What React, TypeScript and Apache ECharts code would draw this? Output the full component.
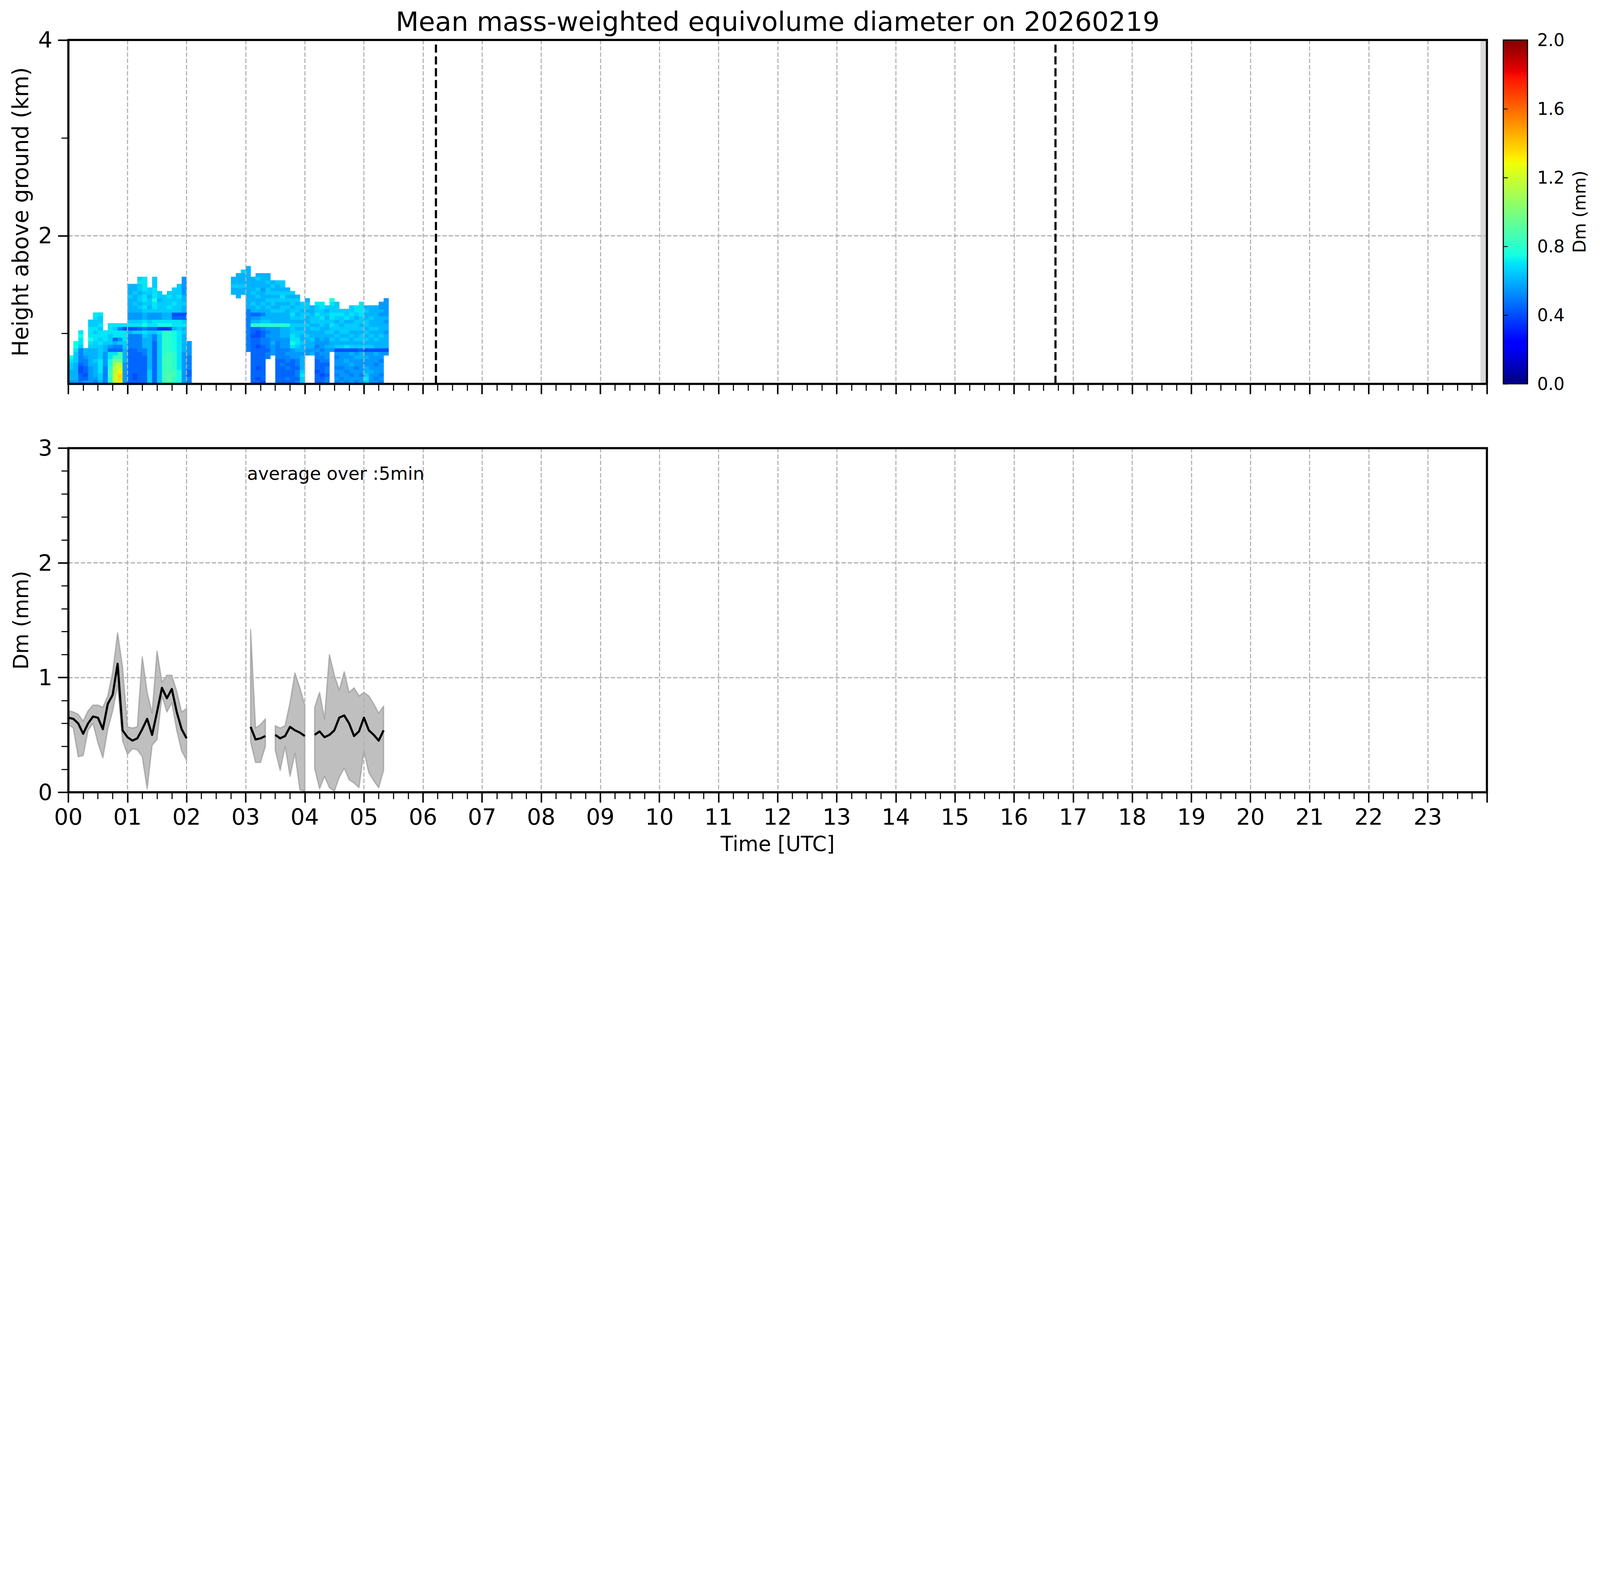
import React, { useEffect, useRef } from "react";
import * as echarts from "echarts";

const FONT = "DejaVu Sans";
const TITLE = "Mean mass-weighted equivolume diameter on 20260219";
const Y_TOP_NAME = "Height above ground (km)";
const Y_BOTTOM_NAME = "Dm (mm)";
const X_NAME = "Time [UTC]";
const CBAR_NAME = "Dm (mm)";
const NOTE = "average over :5min";

const hourLabels = ["00","01","02","03","04","05","06","07","08","09","10","11","12","13","14","15","16","17","18","19","20","21","22","23"];
const topMajorKm = [2, 4];
const topMinorKm = [1, 3];
const colorbarTicks = [0, 0.4, 0.8, 1.2, 1.6, 2.0];

// Top panel: Dm profile. 5-minute columns (start minute), gates from the bottom up.
const heatColMin = 5;
const gateBaseKm = 0.486;
const gateKm = 0.0365;
const heatStartMin = [0,5,10,15,20,25,30,35,40,45,50,55,60,65,70,75,80,85,90,95,100,105,110,115,120,
  165,170,175,180,185,190,195,200,205,210,215,220,225,230,235,240,245,250,255,260,265,270,275,280,285,290,295,300,305,310,315,320];
// one character per gate: Dm = parseInt(ch, 36) * 0.05 mm ; "." = no echo
const heatCols = [
  "bcccddef",
  "bcccccdddeff",
  "a99889aaaadeefe",
  "b9899aabcc",
  "bbbbbcccccdefeeedd",
  "abccccdcccddeededdee",
  "cddeeeeddddedeededde",
  "aaaaabbbbccdeee",
  "gghhgffee9bdddeee",
  "ooonnmkhe9ac9eede",
  "qrrqonjhh9adbeeae",
  "bbbbbbccccddeee8e",
  "9999999999aaaac8edbbccccdccc",
  "9889999999aaaad8edbbccdccdcc",
  "999999999aaaaad9edbbcdcddcdded",
  "99999999aacccdeafeccdedeedeeee",
  "ddddccccccccccd9edbbdcddcdd",
  "999999999999aad9eebbdeefeeeddd",
  "dddddddddddddde7febbdddcdd",
  "hhhhhhhhggggggg7feccddddd",
  "iiihhhhhhgggggg7feccdedded",
  "gghhgggggffffffcee98ddedddd",
  "ffffeeeeeeeeeeedee98ddddeddd",
  "bbbbbbbbbcccccdced98ccdccbbbbb",
  "aa99aaaabbbb",
  ".".repeat(25) + "ccdcc",
  ".".repeat(24) + "cccdccc",
  ".".repeat(25) + "ccdcccd",
  ".".repeat(9) + "aaaaaaaaaaaa" + "cccccccccccc",
  "9999999999999899gcb9ccdccdcccc",
  "9899899999899889gcb9cdccdcdccdc",
  "89999999999aa99agdcaccdcccbcccc",
  ".......aa9aaababgdcccdcdcddcdcc",
  "........bbbcbbbbgcccdcddcdcdc",
  "9999999aaaaabbbbgcccdccdcdccd",
  "99999a9aaabbbcccgcccddcdedcdd",
  "9a99a9aababbbcccfccccdcdcdc",
  "9999999bbbefeedddcdedcddcd",
  "a9aa9aabbcdeeddcdcdcddcdc",
  "ddedccccbccdccdcdcddcdd",
  ".".repeat(8) + "bbcccdccdccdcddc",
  ".".repeat(8) + "cbccdccdcddccc",
  "9998999aababbccdcddedde",
  "998999aababbccccddeddee",
  "aa9aa9abbbcbbcdccdcdcd",
  ".".repeat(9) + "bccdcddedeeddef",
  "abababbab8dccdcddcdeddd",
  "babbabbbb8dcdcddcdded",
  "abbabbcbb8ecdcdddcedd",
  "bbabbcbbc8dccdcddcdedd",
  "abbbabbcb8dcdccdddcdee",
  "bbabbbbcc9dcddcdcddeeee",
  "dedccbbcb8dcdcdcddccdc",
  "bbbcbbbbb8dccdcdccdccc",
  "babbbabbc8ccdccdcccccc",
  "ababbbabb8cccdcccccbcbb",
  ".".repeat(8) + "b8ccccbccbcbbbbb",
];

const refLinesHour = [6.22, 16.7];
const noDataFromHour = 23.89;

// Bottom panel: 5-min averages (null = no data)
const dmTimesMin = [0,5,10,15,20,25,30,35,40,45,50,55,60,65,70,75,80,85,90,95,100,105,110,115,120,125,
  185,190,195,200,205,210,215,220,225,230,235,240,245,250,255,260,265,270,275,280,285,290,295,300,305,310,315,320];
const dmMean = [0.65,0.64,0.60,0.51,0.60,0.66,0.65,0.55,0.77,0.85,1.12,0.54,0.48,0.45,0.47,0.55,0.64,0.50,0.70,0.91,0.82,0.90,0.70,0.55,0.47,null,
  0.57,0.46,0.47,0.49,null,0.50,0.47,0.49,0.57,0.54,0.52,0.49,null,0.50,0.53,0.48,0.50,0.54,0.65,0.67,0.60,0.49,0.53,0.65,0.54,0.50,0.45,0.54];
const dmUpper = [0.71,0.70,0.68,0.62,0.71,0.76,0.76,0.74,0.84,1.05,1.39,1.09,0.57,0.56,0.57,1.18,0.87,0.69,1.23,0.96,1.02,1.02,0.88,0.70,0.73,null,
  1.42,0.56,0.59,0.64,null,0.58,0.56,0.58,0.78,1.04,0.91,0.76,null,0.74,0.87,0.64,1.20,1.02,0.89,1.05,0.87,0.91,0.84,0.87,0.84,0.77,0.69,0.75];
const dmLower = [0.59,0.56,0.31,0.32,0.54,0.60,0.43,0.30,0.55,0.71,0.93,0.45,0.33,0.38,0.37,0.31,0.03,0.41,0.46,0.84,0.70,0.78,0.54,0.36,0.28,null,
  0.44,0.26,0.26,0.40,null,0.37,0.19,0.40,0.14,0.34,0.02,0.01,null,0.21,0.03,0.14,0.04,0.01,0.13,0.21,0.11,0.08,0.04,0.36,0.17,0.10,0.04,0.19];

// matplotlib "jet"
const JET_R = [[0, 0], [0.35, 0], [0.66, 1], [0.89, 1], [1, 0.5]];
const JET_G = [[0, 0], [0.125, 0], [0.375, 1], [0.64, 1], [0.91, 0], [1, 0]];
const JET_B = [[0, 0.5], [0.11, 1], [0.34, 1], [0.65, 0], [1, 0]];
function lerpTable(tab: number[][], x: number) {
  if (x <= tab[0][0]) return tab[0][1];
  for (let i = 1; i < tab.length; i++) {
    if (x <= tab[i][0]) {
      const [x0, y0] = tab[i - 1];
      const [x1, y1] = tab[i];
      return y0 + ((y1 - y0) * (x - x0)) / (x1 - x0);
    }
  }
  return tab[tab.length - 1][1];
}
function jet(t: number) {
  const c = Math.max(0, Math.min(1, t));
  const r = Math.round(255 * lerpTable(JET_R, c));
  const g = Math.round(255 * lerpTable(JET_G, c));
  const b = Math.round(255 * lerpTable(JET_B, c));
  return `rgb(${r},${g},${b})`;
}
const JET_STOPS = [0, 0.11, 0.125, 0.34, 0.35, 0.375, 0.64, 0.65, 0.66, 0.89, 0.91, 1];

// Layout is designed for a 7442 px wide page and scaled to the real page width.
function buildOption(s: number) {
  const k = (v: number) => v * s;

  const heatData: number[][] = [];
  heatCols.forEach((col, c) => {
    const t0 = heatStartMin[c] / 60;
    const t1 = (heatStartMin[c] + heatColMin) / 60;
    for (let i = 0; i < col.length; i++) {
      const ch = col[i];
      if (ch === ".") continue;
      const dm = parseInt(ch, 36) * 0.05;
      heatData.push([t0, gateBaseKm + i * gateKm, t1, gateBaseKm + (i + 1) * gateKm, dm]);
    }
  });

  const bandSegs: number[][] = [];
  let cur: number[] = [];
  dmTimesMin.forEach((_, i) => {
    if (dmMean[i] == null) {
      if (cur.length) bandSegs.push(cur);
      cur = [];
    } else cur.push(i);
  });
  if (cur.length) bandSegs.push(cur);

  const lineData = dmTimesMin.map((t, i) => [t / 60, dmMean[i] == null ? "-" : dmMean[i]]);

  const gridLine = { show: true, lineStyle: { color: "#b0b0b0", width: k(5), type: [k(20), k(9)] } };
  const majTick = { show: true, length: k(48), lineStyle: { color: "#000", width: k(7) } };
  const minTickStyle = { color: "#000", width: k(5) };
  const tickFont = { fontSize: k(104), fontFamily: FONT, color: "#000" };

  const text = (t: string, x: number, y: number, size: number, rot = 0, align = "center") => ({
    type: "text",
    x: k(x),
    y: k(y),
    rotation: rot,
    z: 20,
    style: {
      text: t,
      fontSize: k(size),
      fontFamily: FONT,
      fill: "#000",
      align,
      verticalAlign: "middle",
      textAlign: align,
      textVerticalAlign: "middle",
    },
  });

  return {
    animation: false,
    backgroundColor: "#ffffff",
    grid: [
      { left: k(318), top: k(186), width: k(6598), height: k(1599), show: true, borderColor: "#000", borderWidth: k(10), backgroundColor: "transparent", z: 5 },
      { left: k(318), top: k(2084), width: k(6598), height: k(1600), show: true, borderColor: "#000", borderWidth: k(10), backgroundColor: "transparent", z: 5 },
      { left: k(6992), top: k(186), width: k(113), height: k(1599), show: true, borderColor: "#000", borderWidth: k(5), backgroundColor: "transparent", z: 5 },
    ],
    xAxis: [
      {
        gridIndex: 0, type: "value", min: 0, max: 24, interval: 1, z: 3, position: "bottom",
        axisLine: { show: false }, axisTick: majTick,
        minorTick: { show: true, splitNumber: 4, length: k(32), lineStyle: minTickStyle },
        axisLabel: { show: false }, splitLine: gridLine,
      },
      {
        gridIndex: 1, type: "value", min: 0, max: 24, interval: 1, z: 3, position: "bottom",
        axisLine: { show: false }, axisTick: majTick,
        minorTick: { show: true, splitNumber: 4, length: k(32), lineStyle: minTickStyle },
        axisLabel: { ...tickFont, margin: k(64), formatter: (v: number) => hourLabels[Math.round(v)] ?? "" },
        splitLine: gridLine,
      },
      { gridIndex: 2, type: "value", min: 0, max: 1, show: false },
    ],
    yAxis: [
      {
        gridIndex: 0, type: "value", min: gateBaseKm, max: 4, z: 3, position: "left",
        axisLine: { show: false },
        axisTick: { ...majTick, customValues: topMajorKm },
        axisLabel: { ...tickFont, margin: k(74), customValues: topMajorKm, formatter: (v: number) => String(v) },
        splitLine: gridLine,
      },
      {
        gridIndex: 0, type: "value", min: gateBaseKm, max: 4, z: 3, position: "left", offset: 0,
        axisLine: { show: false },
        axisTick: { show: true, length: k(32), lineStyle: minTickStyle, customValues: topMinorKm },
        axisLabel: { show: false },
        splitLine: { show: false },
      },
      {
        gridIndex: 1, type: "value", min: 0, max: 3, interval: 1, z: 3, position: "left",
        axisLine: { show: false }, axisTick: majTick,
        minorTick: { show: true, splitNumber: 5, length: k(32), lineStyle: minTickStyle },
        axisLabel: { ...tickFont, margin: k(74) },
        splitLine: gridLine,
      },
      {
        gridIndex: 2, type: "value", min: 0, max: 2, interval: 0.4, position: "right", z: 3,
        axisLine: { show: false },
        axisTick: { show: true, length: k(21), lineStyle: { color: "#000", width: k(4) } },
        axisLabel: { fontSize: k(80), fontFamily: FONT, color: "#000", margin: k(45), formatter: (v: number) => v.toFixed(1) },
        splitLine: { show: false },
      },
    ],
    series: [
      {
        type: "custom",
        name: "Dm profile",
        xAxisIndex: 0,
        yAxisIndex: 0,
        z: 2,
        silent: true,
        encode: { x: [0, 2], y: [1, 3] },
        data: heatData,
        renderItem: (params: any, api: any) => {
          const a = api.coord([api.value(0), api.value(1)]);
          const b = api.coord([api.value(2), api.value(3)]);
          return {
            type: "rect",
            shape: { x: a[0], y: b[1], width: b[0] - a[0] + 0.6, height: a[1] - b[1] + 0.6 },
            style: { fill: jet(api.value(4) / 2) },
          };
        },
      },
      {
        type: "line",
        xAxisIndex: 0,
        yAxisIndex: 0,
        z: 1,
        data: [],
        silent: true,
        markArea: {
          silent: true,
          itemStyle: { color: "#d9d9d9" },
          data: [[{ xAxis: noDataFromHour }, { xAxis: 24 }]],
        },
      },
      {
        type: "line",
        xAxisIndex: 0,
        yAxisIndex: 0,
        z: 4,
        data: [],
        silent: true,
        markLine: {
          silent: true,
          symbol: ["none", "none"],
          label: { show: false },
          lineStyle: { color: "#000", width: k(10), type: [k(38), k(17)] },
          data: refLinesHour.map((h) => ({ xAxis: h })),
        },
      },
      {
        type: "custom",
        name: "band",
        xAxisIndex: 1,
        yAxisIndex: 2,
        z: 2,
        silent: true,
        data: bandSegs.map((sg) => [dmTimesMin[sg[0]] / 60, dmLower[sg[0]]]),
        renderItem: (params: any, api: any) => {
          const seg = bandSegs[params.dataIndex];
          const pts: number[][] = seg.map((i) => api.coord([dmTimesMin[i] / 60, dmUpper[i]]));
          for (let j = seg.length - 1; j >= 0; j--) {
            const i = seg[j];
            pts.push(api.coord([dmTimesMin[i] / 60, dmLower[i]]));
          }
          return {
            type: "polygon",
            shape: { points: pts },
            style: { fill: "rgba(128,128,128,0.5)", stroke: "rgba(128,128,128,0.5)", lineWidth: k(6), lineJoin: "round" },
          };
        },
      },
      {
        type: "line",
        name: "Dm mean",
        xAxisIndex: 1,
        yAxisIndex: 2,
        z: 4,
        silent: true,
        symbol: "none",
        showSymbol: false,
        connectNulls: false,
        lineStyle: { color: "#000", width: k(10), join: "round" },
        data: lineData,
      },
      {
        type: "custom",
        name: "colorbar",
        xAxisIndex: 2,
        yAxisIndex: 3,
        z: 2,
        silent: true,
        data: [[0, colorbarTicks[0], 1, colorbarTicks[colorbarTicks.length - 1]]],
        encode: { x: [0, 2], y: [1, 3] },
        renderItem: (params: any, api: any) => {
          const a = api.coord([api.value(0), api.value(1)]);
          const b = api.coord([api.value(2), api.value(3)]);
          return {
            type: "rect",
            shape: { x: a[0], y: b[1], width: b[0] - a[0], height: a[1] - b[1] },
            style: {
              fill: new echarts.graphic.LinearGradient(0, 1, 0, 0, JET_STOPS.map((st) => ({ offset: st, color: jet(st) }))),
            },
          };
        },
      },
    ],
    graphic: [
      text(TITLE, 3617, 100, 124),
      text(Y_TOP_NAME, 96, 985, 102, Math.PI / 2),
      text(Y_BOTTOM_NAME, 97, 2884, 96, Math.PI / 2),
      text(X_NAME, 3617, 3924, 96),
      text(CBAR_NAME, 7347, 985, 80, Math.PI / 2),
      text(NOTE, 1149, 2202, 84, 0, "left"),
    ],
  };
}

export default function App() {
  const ref = useRef<HTMLDivElement>(null);
  useEffect(() => {
    if (!ref.current) return;
    const el = ref.current;
    const chart = echarts.init(el, null, { renderer: "svg" });
    const s = el.clientWidth / 7442;
    chart.setOption(buildOption(s) as any);
    return () => chart.dispose();
  }, []);
  return (
    <div
      ref={ref}
      style={{ position: "fixed", left: 0, top: 0, width: "100vw", height: "100vh", background: "#fff", overflow: "hidden" }}
    />
  );
}
